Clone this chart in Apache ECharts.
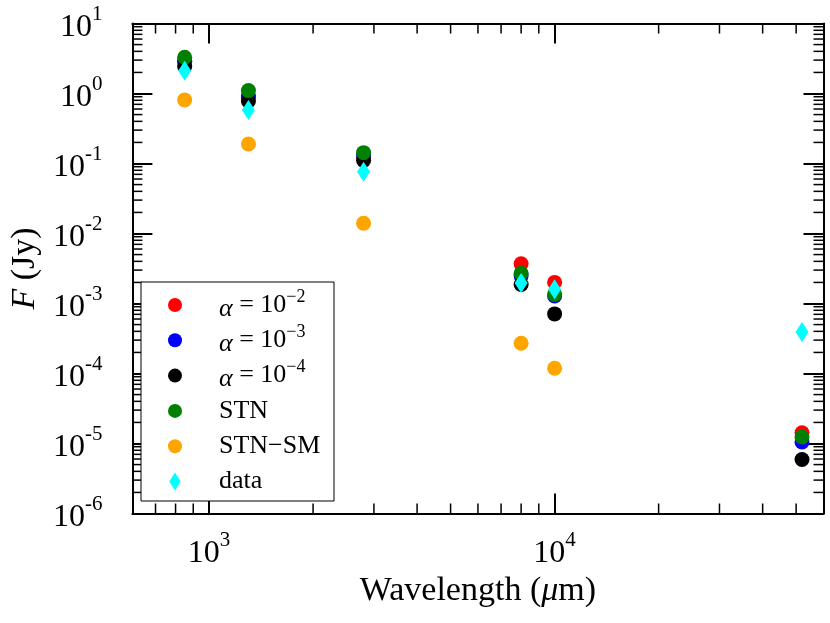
<!DOCTYPE html>
<html><head><meta charset="utf-8">
<script src="https://cdn.jsdelivr.net/npm/echarts@6/dist/echarts.min.js"></script>
<style>html,body{margin:0;padding:0;background:#fff}#c{width:830px;height:623px}</style>
</head><body><div id="c"></div>
<script>
// Wavelengths (micron)
const wavelengths = [850, 1300, 2800, 8000, 10000, 52000];
// Fluxes (Jy)
const alpha2 = [2.9, 0.89, 0.12, 3.7e-3, 2.0e-3, 1.42e-5];
const alpha3 = [2.9, 0.92, 0.13, 2.5e-3, 1.28e-3, 1.05e-5];
const alpha4 = [2.43, 0.78, 0.111, 1.87e-3, 7.1e-4, 5.9e-6];
const stn = [3.29, 1.10, 0.143, 2.70e-3, 1.35e-3, 1.24e-5];
const stnsmWavelengths = [850, 1300, 2800, 8000, 10000];
const stnsm = [0.81, 0.19, 0.014, 2.7e-4, 1.19e-4];
const obs = [2.12, 0.58, 0.0763, 1.96e-3, 1.6e-3, 3.93e-4];

const seriesNames = ['α=10−2', 'α=10−3', 'α=10−4', 'STN', 'STN−SM', 'data'];
const legendLabels = ['{i|α} = 10{s|−2}', '{i|α} = 10{s|−3}', '{i|α} = 10{s|−4}', 'STN', 'STN−SM', 'data'];
const colors = ['#ff0000', '#0000ff', '#000000', '#008000', '#ffa500', '#00ffff'];

const xMinorTicks = [700, 800, 900, 2000, 3000, 4000, 5000, 6000, 7000, 8000, 9000, 20000, 30000, 40000, 50000];
const yDecades = [1e-6, 1e-5, 1e-4, 1e-3, 1e-2, 1e-1, 1];
const yMultipliers = [2, 3, 4, 5, 6, 7, 8, 9];
const yMinorTicks = [];
yDecades.forEach(d => yMultipliers.forEach(m => yMinorTicks.push(m * d)));

const FONT = 'Liberation Serif';
const circleIcon = 'path://M0,0 M18,18 M16,9 A7,7 0 1 1 2,9 A7,7 0 1 1 16,9 Z';
const diamondIcon = 'path://M6.35,0 L12.7,10 L6.35,20 L0,10 Z';

function pairs(xs, ys) { return xs.map((x, i) => [x, ys[i]]); }

function powLabel(v) {
  const e = Math.log10(v);
  const r = Math.round(e);
  if (Math.abs(e - r) > 1e-6) return '';
  return '{b|10}{s|' + r + '}';
}

const labelRich = {
  b: { fontFamily: FONT, fontSize: 32, lineHeight: 40, verticalAlign: 'bottom', color: '#000' },
  s: { fontFamily: FONT, fontSize: 21, lineHeight: 20, verticalAlign: 'top', color: '#000' }
};

function tickSeries(values, dir, len) {
  return {
    type: 'custom', silent: true, z: 1, clip: false, xAxisIndex: 0, yAxisIndex: 0,
    data: values.map(v => dir === 'x' ? [v, 1] : [1000, v]),
    renderItem: function (params, api) {
      const cs = params.coordSys;
      const p = api.coord([api.value(0), api.value(1)]);
      const style = { stroke: '#000', lineWidth: 1.5 };
      if (dir === 'x') {
        return { type: 'group', children: [
          { type: 'line', shape: { x1: p[0], y1: cs.y + cs.height, x2: p[0], y2: cs.y + cs.height - len }, style: style },
          { type: 'line', shape: { x1: p[0], y1: cs.y, x2: p[0], y2: cs.y + len }, style: style }
        ] };
      }
      return { type: 'group', children: [
        { type: 'line', shape: { x1: cs.x, y1: p[1], x2: cs.x + len, y2: p[1] }, style: style },
        { type: 'line', shape: { x1: cs.x + cs.width, y1: p[1], x2: cs.x + cs.width - len, y2: p[1] }, style: style }
      ] };
    }
  };
}

const axisCommon = {
  type: 'log', logBase: 10,
  axisLine: { show: true, lineStyle: { color: '#000', width: 2 } },
  axisTick: { show: true, inside: true, length: 20, lineStyle: { color: '#000', width: 2 } },
  splitLine: { show: false },
  minorTick: { show: false }
};

const scatterData = [alpha2, alpha3, alpha4, stn];
const series = [];
scatterData.forEach((vals, i) => {
  series.push({ name: seriesNames[i], type: 'scatter', symbol: 'circle', symbolSize: 15,
    itemStyle: { color: colors[i], opacity: 1 }, data: pairs(wavelengths, vals), z: 2 });
});
series.push({ name: seriesNames[4], type: 'scatter', symbol: 'circle', symbolSize: 15,
  itemStyle: { color: colors[4], opacity: 1 }, data: pairs(stnsmWavelengths, stnsm), z: 2 });
series.push({ name: seriesNames[5], type: 'scatter', symbol: 'diamond', symbolSize: [13, 20],
  itemStyle: { color: colors[5], opacity: 1 }, data: pairs(wavelengths, obs), z: 2 });
series.push(tickSeries(xMinorTicks, 'x', 10));
series.push(tickSeries(yMinorTicks, 'y', 10));

const chart = echarts.init(document.getElementById('c'), null, { renderer: 'canvas' });
chart.setOption({
  animation: false,
  backgroundColor: '#fff',
  textStyle: { fontFamily: FONT },
  grid: { left: 129, right: 6.5, top: 23.5, bottom: 109.5, containLabel: false },
  xAxis: [
    Object.assign({}, axisCommon, {
      position: 'bottom', min: 600, max: 60000,
      axisLabel: { margin: 16, formatter: powLabel, rich: labelRich, showMinLabel: true, showMaxLabel: true },
      name: 'Wavelength ({i|μ}m)', nameLocation: 'middle', nameGap: 52,
      nameTextStyle: { fontFamily: FONT, fontSize: 34, color: '#000',
        rich: { i: { fontFamily: FONT, fontSize: 34, fontStyle: 'italic', color: '#000' } } }
    }),
    Object.assign({}, axisCommon, {
      position: 'top', min: 600, max: 60000, axisLabel: { show: false }
    })
  ],
  yAxis: [
    Object.assign({}, axisCommon, {
      position: 'left', min: 1e-6, max: 10,
      axisLabel: { margin: 30, formatter: powLabel, rich: labelRich },
      name: '{i|F} (Jy)', nameLocation: 'middle', nameGap: 88, nameRotate: 90,
      nameTextStyle: { fontFamily: FONT, fontSize: 34, color: '#000',
        rich: { i: { fontFamily: FONT, fontSize: 34, fontStyle: 'italic', color: '#000' } } }
    }),
    Object.assign({}, axisCommon, {
      position: 'right', min: 1e-6, max: 10, axisLabel: { show: false }
    })
  ],
  legend: {
    orient: 'vertical', left: 166, top: 288, padding: 0, itemGap: 1.3,
    itemWidth: 78, itemHeight: 18, itemGap: 1.3, z: 5,
    data: seriesNames.map((n, i) => ({ name: n, icon: i === 5 ? diamondIcon : circleIcon })),
    formatter: function (name) { return legendLabels[seriesNames.indexOf(name)]; },
    textStyle: { fontFamily: FONT, fontSize: 26, lineHeight: 34, color: '#000',
      rich: {
        i: { fontFamily: FONT, fontSize: 26, fontStyle: 'italic', lineHeight: 34, verticalAlign: 'bottom', color: '#000' },
        s: { fontFamily: FONT, fontSize: 18, lineHeight: 14, verticalAlign: 'top', color: '#000' }
      } }
  },
  graphic: [{ type: 'rect', z: 3, shape: { x: 141, y: 282, width: 193, height: 219 },
    style: { fill: '#fff', stroke: '#000', lineWidth: 1 } }],
  series: series
});
</script></body></html>
